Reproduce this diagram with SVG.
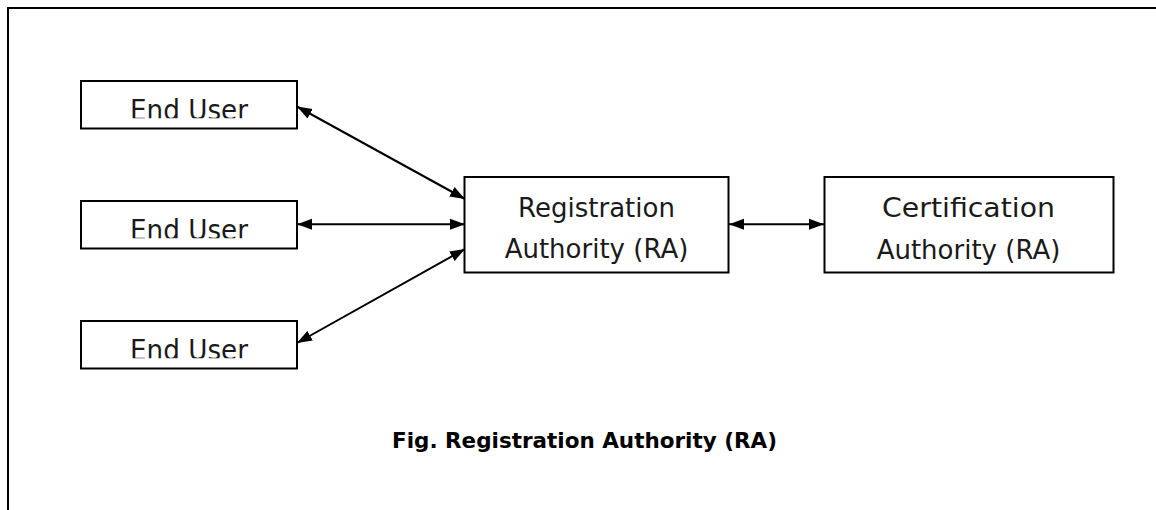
<svg xmlns="http://www.w3.org/2000/svg" width="1156" height="510" viewBox="0 0 1156 510">
<style>
.box{fill:#fff;stroke:#000;stroke-width:2}
.lbl{font-family:"DejaVu Sans","Liberation Sans",sans-serif;fill:#1a1a1a;text-anchor:middle}
.eu{font-size:28px}
.big{font-size:26px}
.cap{font-family:"DejaVu Sans","Liberation Sans",sans-serif;font-weight:bold;font-size:20.5px;fill:#000;text-anchor:middle}
.conn{stroke:#000;stroke-width:2;fill:none;marker-start:url(#ah);marker-end:url(#ah)}
</style>
<defs>
<marker id="ah" markerUnits="userSpaceOnUse" markerWidth="16" markerHeight="12" refX="15" refY="6" orient="auto-start-reverse">
<path d="M0,0.5 L15,6 L0,11.5 z" fill="#000"/>
</marker>
<clipPath id="c1"><rect x="81" y="81" width="216" height="37.3"/></clipPath>
<clipPath id="c2"><rect x="81" y="201" width="216" height="37.3"/></clipPath>
<clipPath id="c3"><rect x="81" y="321" width="216" height="37.3"/></clipPath>
</defs>
<rect width="1156" height="510" fill="#fff"/>
<g id="frame"><path d="M8,510 V8 H1156" fill="none" stroke="#000" stroke-width="2"/></g>
<g id="connectors">
<line class="conn" x1="297" y1="106.5" x2="465" y2="199"/>
<line class="conn" x1="297" y1="224.3" x2="465" y2="224.3"/>
<line class="conn" x1="465" y1="249" x2="297" y2="343"/>
<line class="conn" x1="729" y1="224.3" x2="824" y2="224.3"/>
</g>
<g id="enduser1">
<rect class="box" x="81" y="81" width="216" height="47.5"/>
<text class="lbl eu" x="189" y="120" textLength="118" lengthAdjust="spacingAndGlyphs" clip-path="url(#c1)">End User</text>
</g>
<g id="enduser2">
<rect class="box" x="81" y="201" width="216" height="47.5"/>
<text class="lbl eu" x="189" y="240" textLength="118" lengthAdjust="spacingAndGlyphs" clip-path="url(#c2)">End User</text>
</g>
<g id="enduser3">
<rect class="box" x="81" y="321" width="216" height="47.5"/>
<text class="lbl eu" x="189" y="360" textLength="118" lengthAdjust="spacingAndGlyphs" clip-path="url(#c3)">End User</text>
</g>
<g id="ra">
<rect class="box" x="464.5" y="177" width="264" height="95.5"/>
<text class="lbl big" x="596.5" y="217">Registration</text>
<text class="lbl big" x="596.5" y="257.7">Authority (RA)</text>
</g>
<g id="ca">
<rect class="box" x="824.5" y="177" width="289" height="95.5"/>
<text class="lbl big" x="968.5" y="216.7" textLength="173" lengthAdjust="spacingAndGlyphs">Certification</text>
<text class="lbl big" x="968.5" y="258.5">Authority (RA)</text>
</g>
<g id="caption">
<text class="cap" x="584.5" y="448" textLength="385" lengthAdjust="spacingAndGlyphs">Fig. Registration Authority (RA)</text>
</g>
</svg>
